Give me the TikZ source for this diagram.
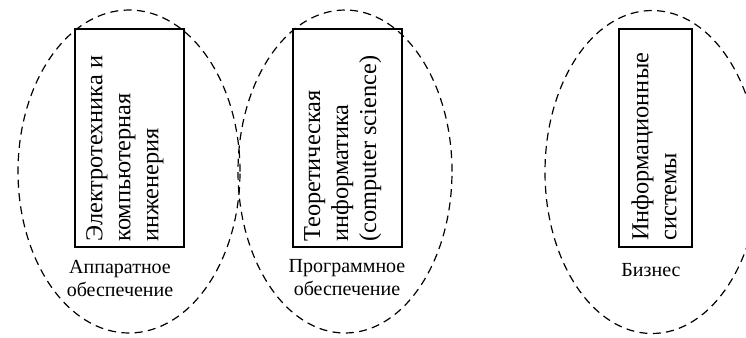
\documentclass[tikz,border=0pt]{standalone}
\usepackage{fontspec}
\setmainfont{Liberation Serif}
\usetikzlibrary{shapes.geometric}
\begin{document}
\begin{tikzpicture}[x=0.75pt,y=-0.75pt,
  area/.style={draw, ellipse, line width=0.9pt, dash pattern=on 6pt off 4pt, inner sep=0pt, minimum height=242.25pt},
  fieldbox/.style={draw, rectangle, line width=1.3pt, inner sep=0pt, minimum height=163.5pt},
  boxtext/.style={rotate=90, anchor=north west, align=left, inner sep=0pt, font=\fontsize{18.25pt}{21pt}\selectfont},
  areatext/.style={align=center, inner sep=0pt, font=\fontsize{15pt}{17.25pt}\selectfont}]
\clip (0,0) rectangle (746,337);
% areas
\node[area, minimum width=166.5pt] (e1) at (129,171.5) {};
\node[area, minimum width=160.5pt] (e2) at (345,171.5) {};
\node[area, minimum width=160.5pt] (e3) at (652,172) {};
% boxes
\node[fieldbox, minimum width=82pt] (b1) at (129.5,138) {};
\node[fieldbox, minimum width=82pt] (b2) at (347.5,138) {};
\node[fieldbox, minimum width=54.75pt] (b3) at (655.5,138) {};
% box texts
\node[boxtext] (t1) at ([xshift=9pt, yshift=4.5pt]b1.south west) {Электротехника и\\компьютерная\\инженерия};
\node[boxtext] (t2) at ([xshift=9pt, yshift=4.5pt]b2.south west) {Теоретическая\\информатика\\(computer science)};
\node[boxtext] (t3) at ([xshift=9.75pt, yshift=5.25pt]b3.south west) {Информационные\\системы};
% area labels
\node[areatext] (l1) at (120,278) {Аппаратное\\обеспечение};
\node[areatext] (l2) at (347,278) {Программное\\обеспечение};
\node[areatext] (l3) at (651,270) {Бизнес};
\end{tikzpicture}
\end{document}
